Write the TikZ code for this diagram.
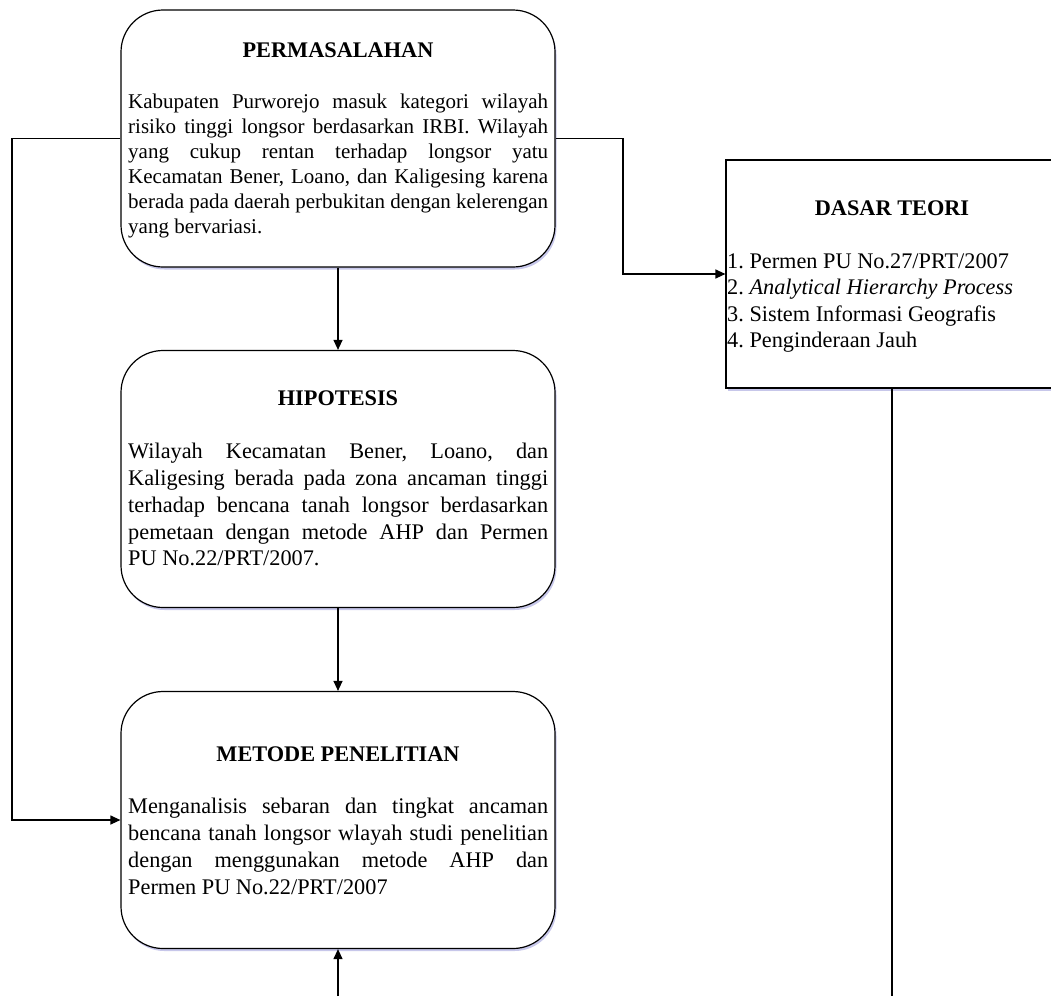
\documentclass[tikz,border=0pt]{standalone}
\usepackage{fontspec}
\setmainfont{Liberation Serif}
\usetikzlibrary{arrows.meta,shadows}
\newcommand{\justline}[1]{\makebox[420pt][s]{#1}}
\frenchspacing
\begin{document}
\begin{tikzpicture}[x=1pt,y=-1pt,
  shad/.style={drop shadow={shadow xshift=1.5pt, shadow yshift=-2.5pt, fill=blue!45!gray, opacity=0.3}},
  box/.style={shad, draw=black, line width=1.2pt, rounded corners=42pt, fill=white, minimum width=434pt, minimum height=257pt, inner sep=0pt},
  sqbox/.style={shad, draw=black, line width=1.2pt, fill=white, minimum width=332pt, minimum height=228pt, inner sep=0pt},
  ttl/.style={font=\bfseries\fontsize{22.3}{26.7}\selectfont, inner sep=0pt, anchor=base},
  body/.style={font=\fontsize{22.3}{26.7}\selectfont, align=left, inner sep=0pt, anchor=north west},
  conn/.style={line width=1.2pt, draw=black},
  arr/.style={conn, -{Triangle[length=10pt,width=9pt]}}
]
\useasboundingbox (0,0) rectangle (1051,996);
\clip (0,0) rectangle (1051,996);

% boxes
\node[box] (perm) at (338,138.5) {};
\node[box] (hip) at (338,479) {};
\node[box] (met) at (338,820) {};
\node[sqbox] (dasar) at (892,274) {};

% titles
\node[ttl] (permT) at (338,57) {PERMASALAHAN};
\node[ttl] (hipT) at (338,405) {HIPOTESIS};
\node[ttl] (metT) at (338,761) {METODE PENELITIAN};
\node[ttl] (dasT) at (892,215) {DASAR TEORI};

% bodies
\node[body, font=\fontsize{21}{25}\selectfont] (permB) at (128,90.5) {%
\strut\justline{Kabupaten Purworejo masuk kategori wilayah}\\
\justline{risiko tinggi longsor berdasarkan IRBI. Wilayah}\\
\justline{yang cukup rentan terhadap longsor yatu}\\
\justline{Kecamatan Bener, Loano, dan Kaligesing karena}\\
\justline{berada pada daerah perbukitan dengan kelerengan}\\
yang bervariasi.};

\node[body] (hipB) at (128,440) {%
\strut\justline{Wilayah Kecamatan Bener, Loano, dan}\\
\justline{Kaligesing berada pada zona ancaman tinggi}\\
\justline{terhadap bencana tanah longsor berdasarkan}\\
\justline{pemetaan dengan metode AHP dan Permen}\\
PU No.22/PRT/2007.};

\node[body] (metB) at (128,795) {%
\strut\justline{Menganalisis sebaran dan tingkat ancaman}\\
\justline{bencana tanah longsor wlayah studi penelitian}\\
\justline{dengan menggunakan metode AHP dan}\\
Permen PU No.22/PRT/2007};

\node[body, font=\fontsize{22.3}{26.3}\selectfont] (dasB) at (727,250) {%
\strut 1. Permen PU No.27/PRT/2007\\
2. \textit{Analytical Hierarchy Process}\\
3. Sistem Informasi Geografis\\
4. Penginderaan Jauh};

% connector coordinates
\coordinate (L) at (12,820);
\coordinate (R) at (623,200);
\coordinate (B) at (338,996);
\coordinate (D) at (892,996);

% connectors
\draw[arr] (perm.south) -- (hip.north);
\draw[arr] (hip.south) -- (met.north);
\draw[arr] (perm.west) -| (L) -- (met.west);
\draw[arr] (perm.east) -| (R) |- (dasar.west);
\draw[arr] (B) -- (met.south);
\draw[conn] (dasar.south) -- (D);
\end{tikzpicture}
\end{document}
